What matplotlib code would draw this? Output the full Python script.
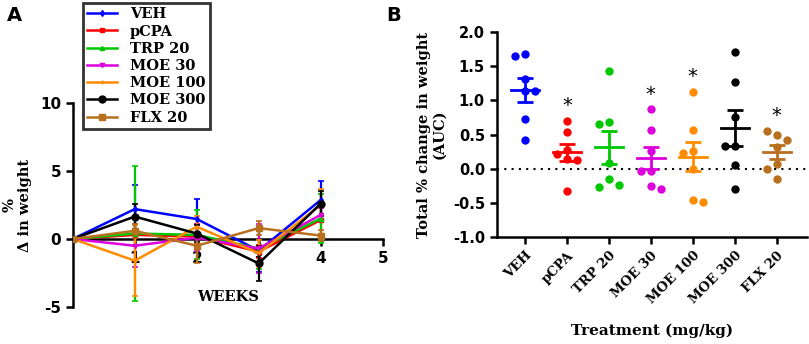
import numpy as np
import matplotlib
matplotlib.use('Agg')
import matplotlib.pyplot as plt
from matplotlib.lines import Line2D

plt.rcParams['axes.unicode_minus'] = False

# ---- panel A : weekly % change in weight (mean +/- SEM)
weeks = [0, 1, 2, 3, 4]
groups = ['VEH', 'pCPA', 'TRP 20', 'MOE 30', 'MOE 100', 'MOE 300', 'FLX 20']
colors = ['#0000ff', '#ff0000', '#00c800', '#dc00dc', '#ff8c00', '#000000', '#b8701e']
markers = ['d', 's', '^', 'v', '+', 'o', 's']

veh = [0, 2.2, 1.47, -0.86, 2.87]
pcpa = [0, 0.3, 0.17, -0.93, 1.4]
trp = [0, 0.4, 0.3, -0.7, 1.5]
moe30 = [0, -0.5, 0.1, -0.7, 1.77]
moe100 = [0, -1.6, 0.9, -1.05, 2.5]
moe300 = [0, 1.65, 0.4, -1.8, 2.6]
flx = [0, 0.6, -0.5, 0.8, 0.25]

veh_err = [0, 1.8, 1.45, 1.6, 1.4]
pcpa_err = [0, 0.8, 0.9, 0.5, 1.0]
trp_err = [0, 5.0, 1.8, 1.5, 1.8]
moe30_err = [0, 1.6, 1.0, 1.8, 0.5]
moe100_err = [0, 2.6, 0.8, 1.0, 1.2]
moe300_err = [0, 0.9, 0.6, 1.3, 0.9]
flx_err = [0, 0.5, 1.3, 0.5, 0.4]

# ---- panel B : AUC per animal
auc_veh = [1.67, 1.64, 1.31, 1.14, 1.14, 0.72, 0.42]
auc_pcpa = [0.70, 0.53, 0.28, 0.21, 0.14, 0.13, -0.32]
auc_trp = [1.43, 0.68, 0.65, 0.08, -0.15, -0.23, -0.27]
auc_moe30 = [0.87, 0.57, 0.26, -0.03, -0.03, -0.25, -0.29]
auc_moe100 = [1.12, 0.56, 0.26, 0.23, -0.01, -0.45, -0.49]
auc_moe300 = [1.71, 1.27, 0.75, 0.33, 0.33, 0.05, -0.30]
auc_flx = [0.49, 0.55, 0.42, 0.32, 0.07, -0.01, -0.15]
signif = [False, True, False, True, True, False, True]

series = [veh, pcpa, trp, moe30, moe100, moe300, flx]
errs = [veh_err, pcpa_err, trp_err, moe30_err, moe100_err, moe300_err, flx_err]
aucs = [auc_veh, auc_pcpa, auc_trp, auc_moe30, auc_moe100, auc_moe300, auc_flx]

serif = 'DejaVu Serif'
sans = 'DejaVu Sans'

fig = plt.figure(figsize=(8.09, 3.44), dpi=100)

# ================= A
ax = fig.add_axes([0.090, 0.108, 0.383, 0.592])
handles = []
for i in range(len(groups)):
    ms = 5 if groups[i] in ('MOE 300', 'FLX 20') else 3
    ax.errorbar(weeks, series[i], yerr=errs[i], color=colors[i], marker=markers[i],
                ms=ms, lw=1.8, elinewidth=1.6, capsize=2, capthick=1.2, zorder=3)
    handles.append(Line2D([], [], color=colors[i], marker=markers[i], ms=ms, lw=1.8,
                          label=groups[i]))
ax.set_xlim(0, 5)
ax.set_ylim(-5, 10)
ax.spines['top'].set_visible(False)
ax.spines['right'].set_visible(False)
ax.spines['bottom'].set_position(('data', 0))
ax.spines['left'].set_linewidth(1.8)
ax.spines['bottom'].set_linewidth(1.8)
ax.set_xticks([1, 2, 3, 4, 5])
ax.set_yticks([-5, 0, 5, 10])
ax.tick_params(width=1.8, length=5, labelsize=11)
for t in ax.get_xticklabels() + ax.get_yticklabels():
    t.set_fontweight('bold')
    t.set_family(sans)
ax.text(2.5, -4.3, 'WEEKS', ha='center', va='center', fontsize=10.5,
        fontweight='bold', family=serif)
ax.set_ylabel('%\n\u0394 in weight', fontsize=10.5, fontweight='bold', family=serif,
              labelpad=6, linespacing=1.1)
leg = fig.legend(handles=handles, loc='upper left',
                 bbox_to_anchor=(83 / 809, 1 - 3 / 344), frameon=True,
                 fancybox=False, edgecolor='black', handlelength=2.0,
                 prop={'family': serif, 'weight': 'bold', 'size': 10.5},
                 labelspacing=0.22, borderpad=0.3, handletextpad=0.9,
                 borderaxespad=0)
leg.get_frame().set_linewidth(2)
fig.text(0.008, 0.94, 'A', fontsize=14, fontweight='bold', family=sans)

# ================= B
bx = fig.add_axes([0.614, 0.310, 0.383, 0.598])
px_x = 42.0     # pixels per category
px_y = 68.6     # pixels per unit
diam = 8.5


def swarm(vals):
    placed = []
    offs = []
    side = -1
    for v in vals:
        k = 0
        while True:
            cands = [0] if k == 0 else [side * k, -side * k]
            done = False
            for c in cands:
                dx = c * 10.0
                ok = True
                for (pdx, pv) in placed:
                    if (dx - pdx) ** 2 + ((v - pv) * px_y) ** 2 < diam ** 2:
                        ok = False
                        break
                if ok:
                    placed.append((dx, v))
                    offs.append(dx / px_x)
                    if c != 0:
                        side = -np.sign(c)
                    done = True
                    break
            if done:
                break
            k += 1
    return offs


for i in range(len(groups)):
    vals = np.array(aucs[i])
    offs = swarm(vals)
    bx.scatter(i + np.array(offs), vals, s=36, color=colors[i], zorder=3, linewidths=0)
    m = vals.mean()
    sem = vals.std(ddof=1) / np.sqrt(len(vals))
    bx.plot([i - 0.33, i + 0.33], [m, m], color=colors[i], lw=2, zorder=4)
    bx.errorbar([i], [m], yerr=[sem], color=colors[i], capsize=6, capthick=2,
                elinewidth=2, zorder=4)
    if signif[i]:
        bx.text(i, vals.max() + 0.22, '*', ha='center', va='center', fontsize=14,
                family=sans)

bx.axhline(0, color='black', ls=(0, (1, 2.5)), lw=1.5, zorder=1)
bx.set_xlim(-0.67, 6.71)
bx.set_ylim(-1.0, 2.0)
bx.set_yticks(np.arange(-1.0, 2.01, 0.5))
bx.set_yticklabels(['%.1f' % v for v in np.arange(-1.0, 2.01, 0.5)])
bx.set_xticks(range(len(groups)))
bx.set_xticklabels(groups, rotation=45, ha='right', rotation_mode='anchor')
bx.spines['top'].set_visible(False)
bx.spines['right'].set_visible(False)
bx.spines['left'].set_linewidth(1.8)
bx.spines['bottom'].set_linewidth(1.8)
bx.tick_params(width=1.8, length=5)
for t in bx.get_yticklabels():
    t.set_fontweight('bold')
    t.set_family(sans)
    t.set_fontsize(10.5)
for t in bx.get_xticklabels():
    t.set_fontweight('bold')
    t.set_family(serif)
    t.set_fontsize(9.5)
bx.set_ylabel('Total % change in weight\n(AUC)', fontsize=10.5, fontweight='bold',
              family=serif, labelpad=5, linespacing=1.1)
bx.set_xlabel('Treatment (mg/kg)', fontsize=11, fontweight='bold', family=serif,
              labelpad=12)
fig.text(0.478, 0.94, 'B', fontsize=14, fontweight='bold', family=sans)

fig.savefig('out.png', dpi=100)
